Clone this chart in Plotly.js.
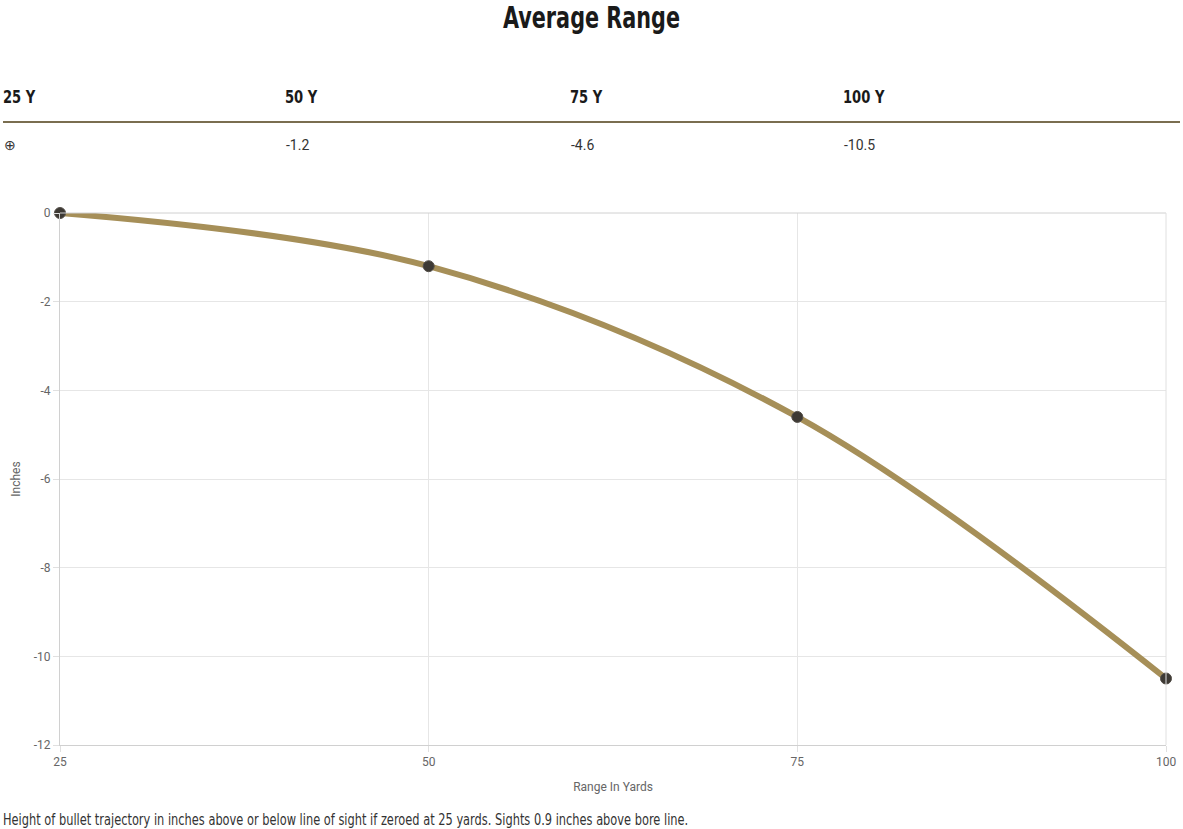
<!DOCTYPE html>
<html>
<head>
<meta charset="utf-8">
<script src="https://cdn.plot.ly/plotly-3.0.1.min.js"></script>
<style>
html,body{margin:0;padding:0;background:#fff;}
#chart{width:1183px;height:829px;}
</style>
</head>
<body>
<div id="chart"></div>
<script>
const yards = [25, 50, 75, 100];
const drops = [0, -1.2, -4.6, -10.5];
const yTicks = [0, -2, -4, -6, -8, -10, -12];
const yTickLabels = ["0", "-2", "-4", "-6", "-8", "-10", "-12"];
const headerLabels = ["25 Y", "50 Y", "75 Y", "100 Y"];
const valueLabels = ["\u2295", "-1.2", "-4.6", "-10.5"];
const titleText = "Average Range";
const xTitle = "Range In Yards";
const yTitle = "Inches";
const footnote = "Height of bullet trajectory in inches above or below line of sight if zeroed at 25 yards. Sights 0.9 inches above bore line.";

const W = 1183, H = 829;
const mL = 60, mR = 17, mT = 213, mB = 84;
const pw = W - mL - mR, ph = H - mT - mB;
const px = x => (x - mL) / pw;
const py = y => (H - mB - y) / ph;

const condensed = '"DejaVu Sans", sans-serif';
const sans = 'Roboto, "Open Sans", sans-serif';
const colX = [3, 285, 570, 843];

// horizontal squeeze ratios to mimic a condensed face
const squeezeRatio = {title: 0.67, header: 0.77, foot: 0.76};

const annotations = [];
headerLabels.forEach((t, i) => {
  annotations.push({text: '<b>' + t + '</b>', xref: 'paper', yref: 'paper', x: px(colX[i]), y: py(97),
    xanchor: 'left', yanchor: 'middle', showarrow: false, name: 'header', xshift: -2,
    font: {family: condensed, size: 17, color: '#1a1a1a'}});
});
valueLabels.forEach((t, i) => {
  annotations.push({text: t, xref: 'paper', yref: 'paper', x: px(colX[i]), y: py(145),
    xanchor: 'left', yanchor: 'middle', showarrow: false, xshift: -1,
    font: {family: sans, size: 14, color: '#333'}});
});
annotations.push({text: footnote, xref: 'paper', yref: 'paper', x: px(3), y: py(820),
  xanchor: 'left', yanchor: 'middle', showarrow: false, name: 'foot', xshift: -2,
  font: {family: condensed, size: 15, color: '#333'}});

const trace = {
  x: yards, y: drops, type: 'scatter', mode: 'lines+markers',
  line: {shape: 'spline', smoothing: 1, color: '#a68f58', width: 6},
  marker: {color: '#3d3934', size: 11, line: {color: '#55504a', width: 1}},
  cliponaxis: false,
  hoverinfo: 'x+y'
};

const layout = {
  width: W, height: H,
  margin: {l: mL, r: mR, t: mT, b: mB},
  paper_bgcolor: '#fff', plot_bgcolor: '#fff',
  showlegend: false,
  title: {text: '<b>' + titleText + '</b>', x: 0.5, xanchor: 'center', xref: 'container',
    y: 1 - 17 / H, yanchor: 'middle', yref: 'container',
    font: {family: condensed, size: 31, color: '#1a1a1a'}},
  xaxis: {range: [25, 100], tickvals: yards, ticktext: yards.map(String),
    showgrid: true, gridcolor: '#e6e6e6', zeroline: false,
    showline: true, linecolor: '#d0d0d0', mirror: false,
    ticks: 'outside', ticklen: 6, tickcolor: '#e0e0e0',
    tickfont: {family: sans, size: 12, color: '#666'},
    title: {text: xTitle, standoff: 14, font: {family: sans, size: 12, color: '#666'}},
    fixedrange: true},
  yaxis: {range: [-12, 0], tickvals: yTicks, ticktext: yTickLabels,
    showgrid: true, gridcolor: '#e6e6e6', zeroline: false,
    showline: true, linecolor: '#d0d0d0',
    ticks: 'outside', ticklen: 6, tickcolor: '#e0e0e0',
    tickfont: {family: sans, size: 12, color: '#666'},
    title: {text: yTitle, standoff: 10, font: {family: sans, size: 12, color: '#666'}},
    fixedrange: true},
  shapes: [
    {type: 'line', xref: 'paper', yref: 'paper', x0: px(3), x1: px(1180), y0: py(122), y1: py(122),
      line: {color: '#7a6e50', width: 2}},
    {type: 'line', xref: 'paper', yref: 'paper', x0: 0, x1: 1, y0: 1, y1: 1,
      line: {color: '#d0d0d0', width: 1}},
    {type: 'line', xref: 'paper', yref: 'paper', x0: 1, x1: 1, y0: 0, y1: 1,
      line: {color: '#e0e0e0', width: 1}}
  ],
  annotations: annotations
};

function squeeze(textEl, ratio, keepLeft) {
  const w = textEl.getComputedTextLength();
  if (!(w > 0)) return;
  if (keepLeft) {
    const bb = textEl.getBBox();
    textEl.setAttribute('text-anchor', 'start');
    textEl.style.textAnchor = 'start';
    textEl.setAttribute('x', bb.x.toFixed(1));
  }
  textEl.setAttribute('textLength', (w * ratio).toFixed(1));
  textEl.setAttribute('lengthAdjust', 'spacingAndGlyphs');
}

Plotly.newPlot('chart', [trace], layout, {displayModeBar: false, responsive: false}).then(gd => {
  const t = gd.querySelector('.gtitle');
  if (t) squeeze(t, squeezeRatio.title, false);
  const anns = gd.querySelectorAll('.annotation');
  anns.forEach((g, i) => {
    const a = layout.annotations[i];
    if (a && squeezeRatio[a.name]) {
      const te = g.querySelector('text.annotation-text');
      if (te) squeeze(te, squeezeRatio[a.name], true);
    }
  });
});
</script>
</body>
</html>
